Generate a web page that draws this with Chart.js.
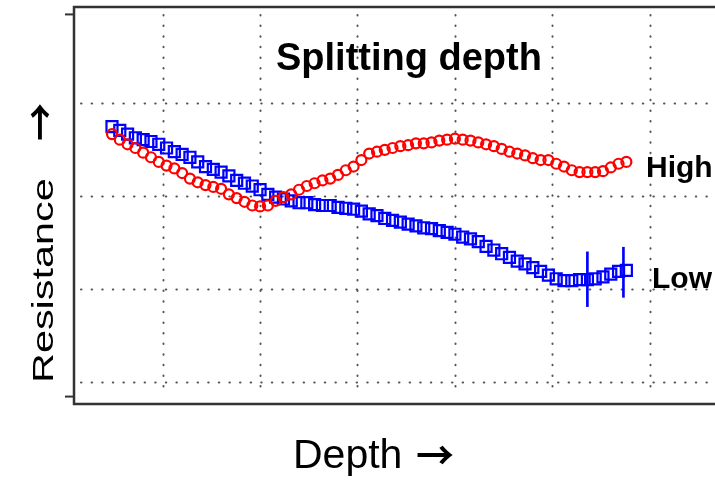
<!DOCTYPE html>
<html>
<head>
<meta charset="utf-8">
<script src="https://cdn.jsdelivr.net/npm/chart.js@4"></script>
<style>
  body { margin: 0; background: #fff; }
  #wrap { width: 715px; height: 480px; position: relative; }
</style>
</head>
<body>
<div id="wrap"><canvas id="myChart"></canvas></div>
<script>
// depth positions of the samples (grid units)
const depth = [0.48, 0.56, 0.64, 0.72, 0.80, 0.88, 0.96, 1.04, 1.12, 1.20, 1.28, 1.36, 1.44, 1.52, 1.60, 1.68, 1.76,
  1.84, 1.92, 2.00, 2.08, 2.16, 2.24, 2.32, 2.40, 2.48, 2.56, 2.64, 2.72, 2.80, 2.88, 2.96, 3.04, 3.12, 3.20, 3.28,
  3.36, 3.44, 3.52, 3.60, 3.68, 3.76, 3.84, 3.92, 4.00, 4.08, 4.16, 4.24, 4.32, 4.40, 4.48, 4.56, 4.64, 4.72, 4.80,
  4.88, 4.96, 5.04, 5.12, 5.20, 5.28, 5.36, 5.44, 5.52, 5.60, 5.68, 5.76];

const lowValues = [3.75, 3.71, 3.67, 3.63, 3.61, 3.59, 3.56, 3.52, 3.48, 3.45, 3.42, 3.37, 3.32, 3.29, 3.26, 3.22, 3.17,
  3.14, 3.11, 3.07, 3.02, 2.99, 2.97, 2.95, 2.93, 2.93, 2.91, 2.90, 2.90, 2.88, 2.87, 2.86, 2.84, 2.81, 2.79, 2.76,
  2.74, 2.72, 2.70, 2.68, 2.66, 2.65, 2.63, 2.61, 2.59, 2.56, 2.54, 2.51, 2.46, 2.42, 2.38, 2.34, 2.30, 2.27, 2.23,
  2.19, 2.15, 2.11, 2.09, 2.09, 2.10, 2.10, 2.11, 2.13, 2.16, 2.19, 2.20];

const highValues = [3.67, 3.61, 3.56, 3.52, 3.47, 3.42, 3.37, 3.33, 3.30, 3.25, 3.19, 3.15, 3.12, 3.10, 3.08, 3.02, 2.98,
  2.94, 2.90, 2.89, 2.90, 2.95, 2.99, 3.02, 3.07, 3.11, 3.14, 3.17, 3.19, 3.23, 3.28, 3.32, 3.39, 3.46, 3.48, 3.50,
  3.52, 3.54, 3.55, 3.57, 3.57, 3.58, 3.60, 3.61, 3.62, 3.61, 3.60, 3.58, 3.56, 3.54, 3.51, 3.48, 3.46, 3.44, 3.41,
  3.39, 3.39, 3.35, 3.32, 3.28, 3.26, 3.26, 3.26, 3.27, 3.31, 3.35, 3.37];

// error bars on the low curve
const errDepth = [5.36, 5.73];
const errLow = [1.81, 1.91];
const errHigh = [2.40, 2.45];

// dotted grid + left tick marks
const xGrid = [1, 2, 3, 4, 5, 6];
const yGrid = [1, 2, 3, 4];
const yTicks = [0.84, 4.96];

const FONT = '"Liberation Sans", Arial, Helvetica, sans-serif';
const ARROW_FONT = '"Noto Sans CJK JP", "DejaVu Sans", sans-serif';

const framePlugin = {
  id: "frame",
  beforeDatasetsDraw(chart) {
    const { ctx, chartArea: a, scales } = chart;
    ctx.save();
    // dotted grid
    ctx.strokeStyle = "#555";
    ctx.lineWidth = 2;
    ctx.lineCap = "round";
    ctx.setLineDash([0.5, 10.1]);
    xGrid.forEach(v => {
      const x = Math.round(scales.x.getPixelForValue(v)) + 0.5;
      ctx.beginPath();
      ctx.moveTo(x, a.top + 8);
      ctx.lineTo(x, a.bottom - 14);
      ctx.stroke();
    });
    yGrid.forEach(v => {
      const y = Math.round(scales.y.getPixelForValue(v)) + 0.5;
      ctx.beginPath();
      ctx.moveTo(a.left + 7, y);
      ctx.lineTo(a.right, y);
      ctx.stroke();
    });
    ctx.setLineDash([]);
    ctx.lineCap = "butt";
    // box
    ctx.strokeStyle = "#333";
    ctx.lineWidth = 2.5;
    ctx.beginPath();
    ctx.moveTo(a.right, a.top);
    ctx.lineTo(a.left, a.top);
    ctx.lineTo(a.left, a.bottom);
    ctx.lineTo(a.right, a.bottom);
    ctx.stroke();
    // small ticks on the left
    ctx.lineWidth = 2;
    yTicks.forEach(v => {
      const y = scales.y.getPixelForValue(v);
      ctx.beginPath();
      ctx.moveTo(a.left - 9, y);
      ctx.lineTo(a.left, y);
      ctx.stroke();
    });
    // texts
    ctx.fillStyle = "#000";
    ctx.textBaseline = "alphabetic";
    ctx.textAlign = "left";
    ctx.font = "bold 38px " + FONT;
    ctx.fillText("Splitting depth", 276, 70);
    ctx.font = "bold 30px " + FONT;
    ctx.fillText("High", 646, 177);
    ctx.fillText("Low", 652, 288);
    ctx.font = "41px " + FONT;
    ctx.fillText("Depth", 293, 468);
    ctx.font = "bold 38px " + ARROW_FONT;
    ctx.fillText("\u2192", 416, 469);
    ctx.save();
    ctx.translate(53, 383);
    ctx.rotate(-Math.PI / 2);
    ctx.save();
    ctx.scale(1.38, 1);
    ctx.font = "30px " + FONT;
    ctx.fillText("Resistance", 0, 0);
    ctx.restore();
    ctx.font = "bold 38px " + ARROW_FONT;
    ctx.fillText("\u2192", 242, 1);
    ctx.restore();
    ctx.restore();
  }
};

const ctx = document.getElementById("myChart");
new Chart(ctx, {
  type: "scatter",
  data: {
    datasets: [
      {
        type: "bar",
        label: "error",
        data: errDepth.map((d, i) => ({ x: d, y: [errLow[i], errHigh[i]] })),
        backgroundColor: "#0000ff",
        barThickness: 2,
        order: 3,
      },
      {
        label: "Low",
        data: depth.map((d, i) => ({ x: d, y: lowValues[i] })),
        pointStyle: "rect",
        pointRadius: 7.8,
        borderColor: "#0000ff",
        backgroundColor: "rgba(0,0,0,0)",
        borderWidth: 2.2,
        order: 2,
      },
      {
        label: "High",
        data: depth.map((d, i) => ({ x: d, y: highValues[i] })),
        pointStyle: "circle",
        pointRadius: 5,
        borderColor: "#ff0000",
        backgroundColor: "rgba(0,0,0,0)",
        borderWidth: 2.2,
        order: 1,
      },
    ],
  },
  options: {
    responsive: true,
    maintainAspectRatio: false,
    animation: false,
    layout: { autoPadding: false, padding: { left: 74, top: 7, right: 0, bottom: 76 } },
    plugins: { legend: { display: false }, tooltip: { enabled: false } },
    scales: {
      x: { type: "linear", min: 0.09, max: 6.67, offset: false, display: false },
      y: { type: "linear", min: 0.76, max: 5.04, display: false },
    },
  },
  plugins: [framePlugin],
});
</script>
</body>
</html>
